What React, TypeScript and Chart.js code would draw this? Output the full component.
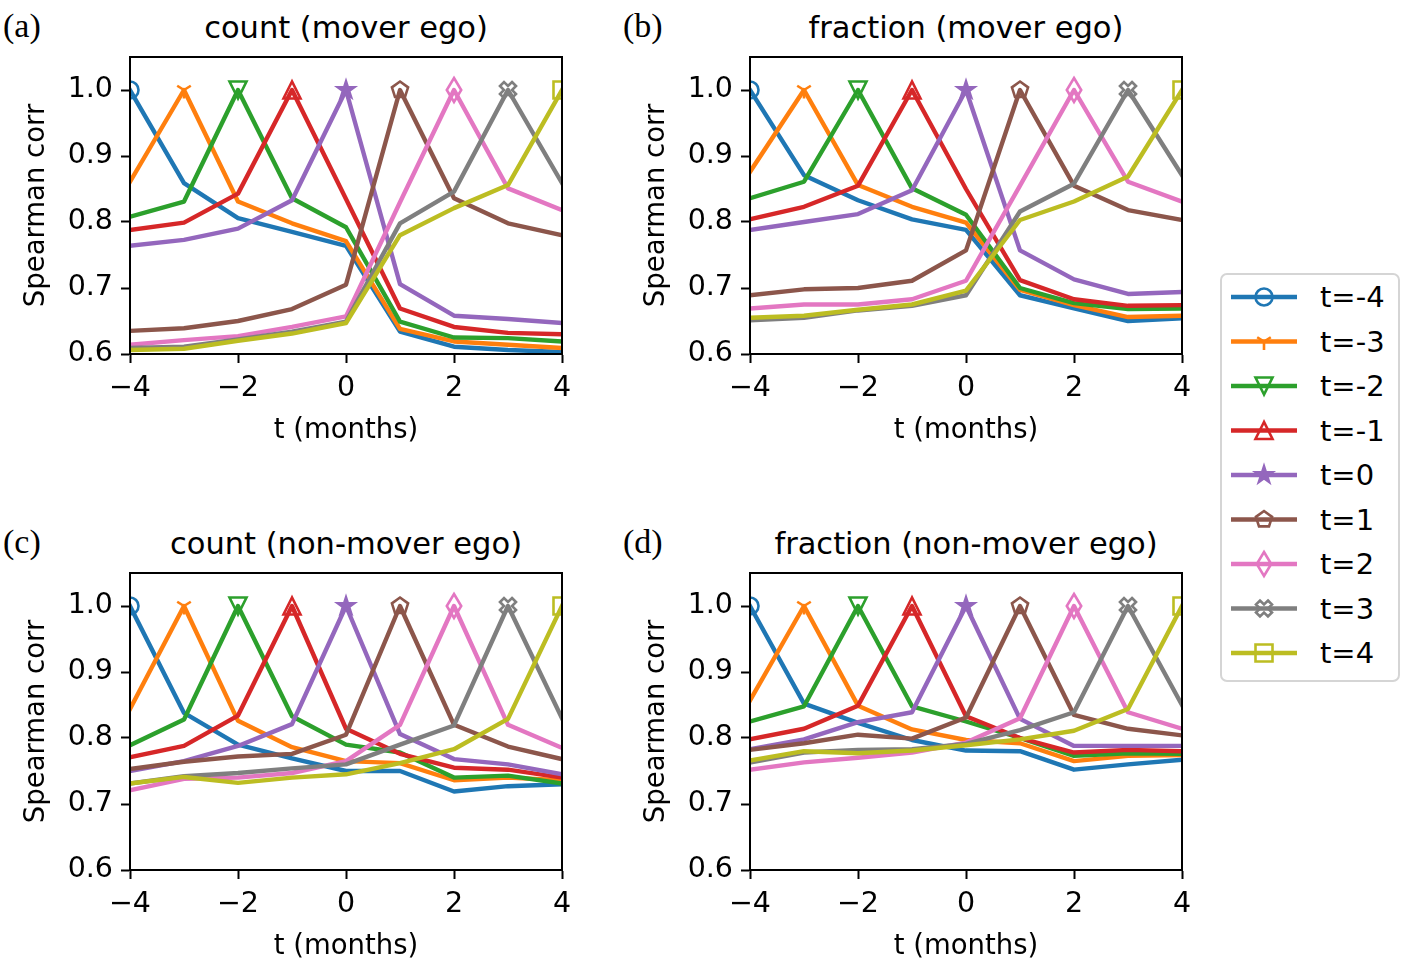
import React, { useEffect, useRef } from 'react';
import { Chart, registerables } from 'chart.js';

Chart.register(...registerables);

const MONTHS = [-4, -3, -2, -1, 0, 1, 2, 3, 4];
const X_TICKS = [-4, -2, 0, 2, 4];
const Y_TICKS = [0.6, 0.7, 0.8, 0.9, 1.0];
const SERIES_LABELS = ['t=-4', 't=-3', 't=-2', 't=-1', 't=0', 't=1', 't=2', 't=3', 't=4'];
const COLORS = ['#1f77b4', '#ff7f0e', '#2ca02c', '#d62728', '#9467bd', '#8c564b', '#e377c2', '#7f7f7f', '#bcbd22'];
const MARKERS = ['circle', 'tri_down', 'triangle_down', 'triangle_up', 'star', 'pentagon', 'thin_diamond', 'x_filled', 'square'];

// rows: series t=-4..4 ; columns: x = -4..4
const COUNT_MOVER = [
  [1.0, 0.859, 0.806, 0.785, 0.764, 0.634, 0.611, 0.606, 0.603],
  [0.861, 1.0, 0.831, 0.798, 0.771, 0.638, 0.619, 0.614, 0.609],
  [0.808, 0.831, 1.0, 0.836, 0.792, 0.649, 0.625, 0.624, 0.619],
  [0.788, 0.799, 0.843, 1.0, 0.835, 0.669, 0.641, 0.632, 0.630],
  [0.764, 0.773, 0.790, 0.833, 1.0, 0.706, 0.658, 0.653, 0.647],
  [0.635, 0.639, 0.650, 0.668, 0.705, 1.0, 0.836, 0.798, 0.780],
  [0.614, 0.621, 0.627, 0.641, 0.657, 0.830, 1.0, 0.851, 0.818],
  [0.609, 0.611, 0.622, 0.634, 0.649, 0.798, 0.846, 1.0, 0.859],
  [0.606, 0.608, 0.620, 0.631, 0.647, 0.780, 0.821, 0.856, 1.0],
];

const FRACTION_MOVER = [
  [1.0, 0.871, 0.833, 0.804, 0.788, 0.689, 0.669, 0.650, 0.654],
  [0.876, 1.0, 0.856, 0.823, 0.799, 0.697, 0.674, 0.656, 0.658],
  [0.836, 0.861, 1.0, 0.851, 0.811, 0.700, 0.677, 0.668, 0.669],
  [0.804, 0.823, 0.855, 1.0, 0.850, 0.712, 0.683, 0.673, 0.674],
  [0.788, 0.800, 0.812, 0.848, 1.0, 0.757, 0.713, 0.691, 0.694],
  [0.689, 0.698, 0.700, 0.711, 0.757, 1.0, 0.855, 0.818, 0.803],
  [0.669, 0.675, 0.675, 0.683, 0.711, 0.855, 1.0, 0.861, 0.831],
  [0.651, 0.655, 0.666, 0.673, 0.689, 0.816, 0.858, 1.0, 0.871],
  [0.655, 0.658, 0.667, 0.675, 0.696, 0.803, 0.831, 0.869, 1.0],
];

const COUNT_NONMOVER = [
  [1.0, 0.838, 0.790, 0.769, 0.750, 0.750, 0.719, 0.727, 0.730],
  [0.844, 1.0, 0.826, 0.786, 0.765, 0.762, 0.736, 0.740, 0.736],
  [0.789, 0.828, 1.0, 0.833, 0.790, 0.778, 0.740, 0.743, 0.731],
  [0.771, 0.788, 0.834, 1.0, 0.814, 0.776, 0.755, 0.752, 0.740],
  [0.750, 0.765, 0.788, 0.821, 1.0, 0.806, 0.768, 0.760, 0.745],
  [0.753, 0.764, 0.772, 0.776, 0.805, 1.0, 0.820, 0.787, 0.768],
  [0.721, 0.738, 0.740, 0.747, 0.765, 0.820, 1.0, 0.820, 0.785],
  [0.731, 0.742, 0.747, 0.754, 0.760, 0.790, 0.819, 1.0, 0.830],
  [0.731, 0.741, 0.732, 0.740, 0.745, 0.762, 0.783, 0.829, 1.0],
];

const FRACTION_NONMOVER = [
  [1.0, 0.852, 0.823, 0.797, 0.781, 0.780, 0.752, 0.760, 0.767],
  [0.857, 1.0, 0.849, 0.813, 0.797, 0.792, 0.765, 0.773, 0.774],
  [0.825, 0.848, 1.0, 0.848, 0.825, 0.800, 0.773, 0.777, 0.776],
  [0.798, 0.814, 0.849, 1.0, 0.833, 0.800, 0.778, 0.782, 0.780],
  [0.783, 0.798, 0.824, 0.839, 1.0, 0.829, 0.788, 0.788, 0.788],
  [0.782, 0.792, 0.805, 0.799, 0.831, 1.0, 0.835, 0.814, 0.804],
  [0.752, 0.763, 0.770, 0.778, 0.793, 0.830, 1.0, 0.839, 0.814],
  [0.763, 0.778, 0.782, 0.783, 0.791, 0.812, 0.839, 1.0, 0.850],
  [0.766, 0.780, 0.777, 0.781, 0.789, 0.798, 0.811, 0.844, 1.0],
];

const PANELS = [
  { key: 'a', label: '(a)', title: 'count (mover ego)', data: COUNT_MOVER, left: 0, top: 47 },
  { key: 'b', label: '(b)', title: 'fraction (mover ego)', data: FRACTION_MOVER, left: 620, top: 47 },
  { key: 'c', label: '(c)', title: 'count (non-mover ego)', data: COUNT_NONMOVER, left: 0, top: 563 },
  { key: 'd', label: '(d)', title: 'fraction (non-mover ego)', data: FRACTION_NONMOVER, left: 620, top: 563 },
];

const FONT = 'DejaVu Sans';
const MS = 17; // marker size px
const MEW = 2.6; // marker edge width
const LW = 4.4; // line width

function polyPath(pts: number[][]): string {
  return pts.map((p, i) => (i === 0 ? 'M' : 'L') + p[0].toFixed(2) + ' ' + p[1].toFixed(2)).join(' ') + ' Z';
}

function markerPath(kind: string): string {
  const r = MS / 2;
  switch (kind) {
    case 'circle':
      return `M ${r} 0 A ${r} ${r} 0 1 1 ${-r} 0 A ${r} ${r} 0 1 1 ${r} 0 Z`;
    case 'tri_down':
      return `M 0 0 L 0 ${r} M 0 0 L ${0.8 * r} ${-0.5 * r} M 0 0 L ${-0.8 * r} ${-0.5 * r}`;
    case 'triangle_down':
      return polyPath([[0, r], [-r, -r], [r, -r]]);
    case 'triangle_up':
      return polyPath([[0, -r], [-r, r], [r, r]]);
    case 'star': {
      const pts: number[][] = [];
      for (let i = 0; i < 10; i++) {
        const rr = i % 2 === 0 ? r : r * 0.381966;
        const a = -Math.PI / 2 + (i * Math.PI) / 5;
        pts.push([rr * Math.cos(a), rr * Math.sin(a)]);
      }
      return polyPath(pts);
    }
    case 'pentagon': {
      const pts: number[][] = [];
      for (let i = 0; i < 5; i++) {
        const a = -Math.PI / 2 + (i * 2 * Math.PI) / 5;
        pts.push([r * Math.cos(a), r * Math.sin(a)]);
      }
      return polyPath(pts);
    }
    case 'thin_diamond': {
      const h = MS * 0.7071;
      const w = h * 0.6;
      return polyPath([[0, -h], [w, 0], [0, h], [-w, 0]]);
    }
    case 'x_filled': {
      const a = 1 / 6, b = 0.5;
      const base = [[-a, -b], [a, -b], [a, -a], [b, -a], [b, a], [a, a], [a, b], [-a, b], [-a, a], [-b, a], [-b, -a], [-a, -a]];
      const c = Math.cos(Math.PI / 4), s = Math.sin(Math.PI / 4);
      const pts = base.map(([x, y]) => [(x * c - y * s) * MS, (x * s + y * c) * MS]);
      return polyPath(pts);
    }
    case 'square':
    default:
      return polyPath([[-r, -r], [r, -r], [r, r], [-r, r]]);
  }
}

function makeMarkerCanvas(kind: string, color: string): HTMLCanvasElement {
  const c = document.createElement('canvas');
  c.width = 40;
  c.height = 40;
  const ctx = c.getContext('2d')!;
  ctx.translate(20, 20);
  const p = new Path2D(markerPath(kind));
  ctx.strokeStyle = color;
  ctx.lineWidth = MEW;
  ctx.lineJoin = 'miter';
  if (kind === 'star') {
    ctx.fillStyle = color;
    ctx.fill(p);
  }
  ctx.stroke(p);
  return c;
}

const framePlugin = {
  id: 'frame',
  afterDatasetsDraw(chart: any) {
    const { ctx, chartArea: a } = chart;
    ctx.save();
    ctx.strokeStyle = '#000';
    ctx.lineWidth = 2;
    ctx.strokeRect(a.left, a.top, a.right - a.left, a.bottom - a.top);
    ctx.restore();
  },
};

const CANVAS_W = 582;
const CANVAS_H = 407;

function Panel({ panel }: { panel: any }) {
  const ref = useRef<HTMLCanvasElement | null>(null);
  useEffect(() => {
    if (!ref.current) return;
    const datasets = panel.data.map((row: number[], i: number) => {
      const marker = makeMarkerCanvas(MARKERS[i], COLORS[i]);
      const peak = i;
      return {
        label: SERIES_LABELS[i],
        data: MONTHS.map((m, j) => ({ x: m, y: row[j] })),
        borderColor: COLORS[i],
        backgroundColor: COLORS[i],
        borderWidth: LW,
        borderJoinStyle: 'round',
        borderCapStyle: 'square',
        tension: 0,
        fill: false,
        order: 8 - i,
        clip: 0,
        pointRadius: MONTHS.map((_, j) => (j === peak ? 9 : 0)),
        pointStyle: MONTHS.map((_, j) => (j === peak ? marker : 'circle')),
        pointBorderWidth: 0,
      };
    });
    const tickFont = { family: FONT, size: 28.5 };
    const labelFont = { family: FONT, size: 27.5 };
    const chart = new Chart(ref.current, {
      type: 'line',
      data: { datasets },
      plugins: [framePlugin],
      options: {
        animation: false,
        responsive: false,
        devicePixelRatio: 1,
        events: [],
        layout: { padding: { left: 0, top: 10, right: 20, bottom: 0 } },
        plugins: { legend: { display: false }, tooltip: { enabled: false }, title: { display: false } },
        scales: {
          x: {
            type: 'linear',
            min: -4,
            max: 4,
            afterBuildTicks: (s: any) => {
              s.ticks = X_TICKS.map((v) => ({ value: v }));
            },
            afterFit: (s: any) => {
              s.height = 100;
              s.paddingLeft = 0;
              s.paddingRight = 0;
            },
            ticks: {
              font: tickFont,
              color: '#000',
              padding: 8,
              maxRotation: 0,
              autoSkip: false,
              callback: (v: any) => (v < 0 ? '\u2212' + Math.abs(v) : String(v)),
            },
            grid: { drawOnChartArea: false, drawTicks: true, tickLength: 9, tickWidth: 2, tickColor: '#000' },
            border: { display: true, color: '#000', width: 2 },
            title: { display: true, text: 't (months)', font: labelFont, color: '#000', padding: { top: 0, bottom: 7 } },
          },
          y: {
            type: 'linear',
            min: 0.6,
            max: 1.05,
            afterBuildTicks: (s: any) => {
              s.ticks = Y_TICKS.map((v) => ({ value: v }));
            },
            afterFit: (s: any) => {
              s.width = 130;
              s.paddingTop = 0;
              s.paddingBottom = 0;
            },
            ticks: {
              font: tickFont,
              color: '#000',
              padding: 8,
              autoSkip: false,
              callback: (v: any) => Number(v).toFixed(1),
            },
            grid: { drawOnChartArea: false, drawTicks: true, tickLength: 9, tickWidth: 2, tickColor: '#000' },
            border: { display: true, color: '#000', width: 2 },
            title: { display: true, text: 'Spearman corr', font: labelFont, color: '#000', padding: { top: 20.5, bottom: 0 } },
          },
        },
      } as any,
    } as any);
    return () => chart.destroy();
  }, [panel]);

  const plotCenterX = panel.left + 130 + 216;
  return (
    <>
      <canvas
        ref={ref}
        width={CANVAS_W}
        height={CANVAS_H}
        style={{ position: 'absolute', left: panel.left, top: panel.top, width: CANVAS_W, height: CANVAS_H }}
      />
      <div
        style={{
          position: 'absolute',
          left: plotCenterX,
          top: panel.top - 20,
          transform: 'translate(-50%, -50%)',
          fontFamily: FONT,
          fontSize: 30.5,
          whiteSpace: 'nowrap',
          color: '#000',
        }}
      >
        {panel.title}
      </div>
      <div
        style={{
          position: 'absolute',
          left: panel.left + 3,
          top: panel.top - 21,
          transform: 'translate(0, -50%)',
          fontFamily: 'Liberation Serif',
          fontSize: 34,
          whiteSpace: 'nowrap',
          color: '#000',
        }}
      >
        {panel.label}
      </div>
    </>
  );
}

function Legend() {
  const W = 180;
  const H = 409;
  return (
    <svg
      width={W}
      height={H}
      style={{ position: 'absolute', left: 1220, top: 273 }}
      xmlns="http://www.w3.org/2000/svg"
    >
      <rect x={1} y={1} width={W - 2} height={H - 2} rx={6} ry={6} fill="#fff" stroke="#d5d5d5" strokeWidth={2} />
      {SERIES_LABELS.map((lab, i) => {
        const y = 24 + 44.5 * i;
        return (
          <g key={lab}>
            <line x1={11} y1={y} x2={77} y2={y} stroke={COLORS[i]} strokeWidth={LW} />
            <path
              d={markerPath(MARKERS[i])}
              transform={`translate(44 ${y})`}
              fill={MARKERS[i] === 'star' ? COLORS[i] : 'none'}
              stroke={COLORS[i]}
              strokeWidth={MEW}
            />
            <text x={100} y={y} dominantBaseline="central" fontFamily={FONT} fontSize={29} fill="#000">
              {lab}
            </text>
          </g>
        );
      })}
    </svg>
  );
}

export default function App() {
  return (
    <div style={{ position: 'absolute', left: 0, top: 0, width: 1411, height: 959, background: '#fff', overflow: 'hidden' }}>
      {PANELS.map((p) => (
        <Panel key={p.key} panel={p} />
      ))}
      <Legend />
    </div>
  );
}
